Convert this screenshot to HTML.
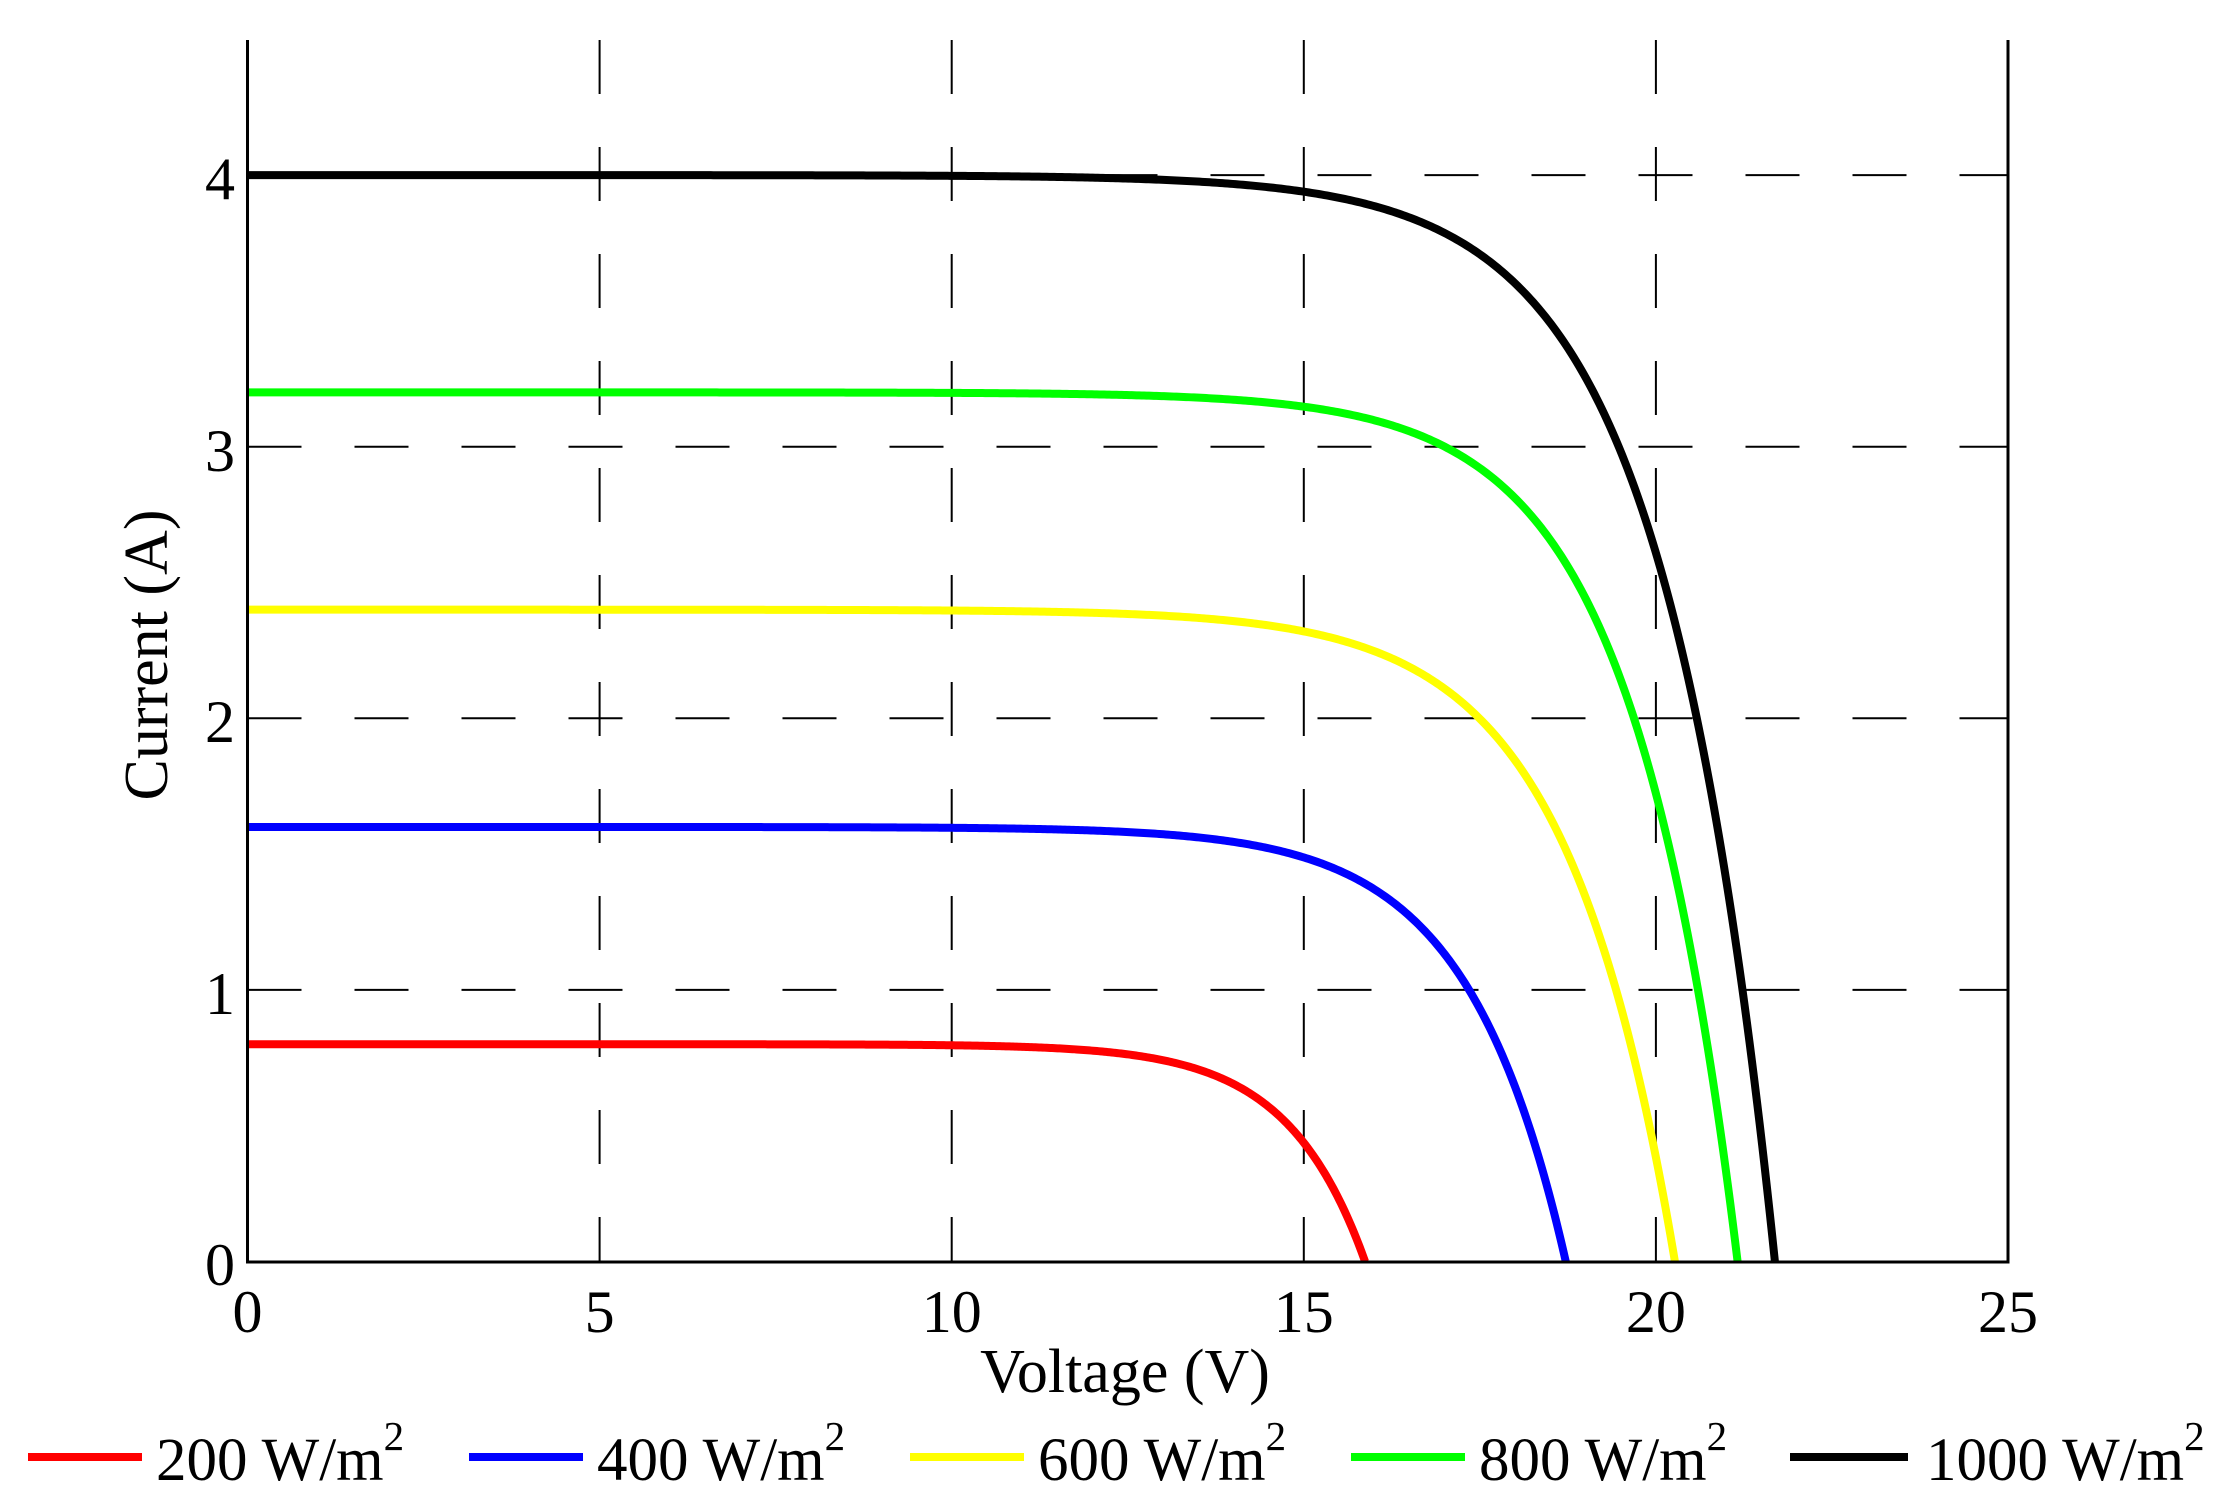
<!DOCTYPE html>
<html><head><meta charset="utf-8"><style>
html,body{margin:0;padding:0;background:#fff;}
svg{display:block;}
text{font-family:"Liberation Serif",serif;fill:#000;}
</style></head><body>
<svg id="s" width="2230" height="1508" viewBox="0 0 2230 1508" xmlns="http://www.w3.org/2000/svg">
<rect width="2230" height="1508" fill="#fff"/>
<g id="grid" stroke="#000" stroke-width="2" stroke-dasharray="54 53" fill="none"></g>
<g id="curves" fill="none" stroke-width="8" stroke-linejoin="round"></g>
<path d="M247.5,40 V1262 H2008 V40" fill="none" stroke="#000" stroke-width="3"/>
<g font-size="60" text-anchor="end">
<text x="235" y="1285">0</text>
<text x="235" y="1014">1</text>
<text x="235" y="742">2</text>
<text x="235" y="471">3</text>
<text x="235" y="199">4</text>
</g>
<g font-size="60" text-anchor="middle">
<text x="247.5" y="1332">0</text>
<text x="599.6" y="1332">5</text>
<text x="951.7" y="1332">10</text>
<text x="1303.8" y="1332">15</text>
<text x="1655.9" y="1332">20</text>
<text x="2008" y="1332">25</text>
</g>
<text x="1125" y="1392" font-size="62" text-anchor="middle">Voltage (V)</text>
<text transform="translate(167,655) rotate(-90)" font-size="62" text-anchor="middle">Current (A)</text>
<g stroke-width="8">
<line x1="28" y1="1457" x2="142" y2="1457" stroke="#ff0000"/>
<line x1="469" y1="1457" x2="583" y2="1457" stroke="#0000ff"/>
<line x1="910" y1="1457" x2="1024" y2="1457" stroke="#ffff00"/>
<line x1="1351" y1="1457" x2="1465" y2="1457" stroke="#00ff00"/>
<line x1="1790" y1="1457" x2="1908" y2="1457" stroke="#000"/>
</g>
<g font-size="61">
<text x="156" y="1480">200 W/m<tspan font-size="41" dy="-30">2</tspan></text>
<text x="597" y="1480">400 W/m<tspan font-size="41" dy="-30">2</tspan></text>
<text x="1038" y="1480">600 W/m<tspan font-size="41" dy="-30">2</tspan></text>
<text x="1479" y="1480">800 W/m<tspan font-size="41" dy="-30">2</tspan></text>
<text x="1926" y="1480">1000 W/m<tspan font-size="41" dy="-30">2</tspan></text>
</g>
</svg>
<script>
(function(){
var ns="http://www.w3.org/2000/svg";
function X(v){return 247.5+v*70.42;}
function Y(i){return 1261.5-i*271.6;}
var g=document.getElementById("grid");
for(var k=1;k<5;k++){var l=document.createElementNS(ns,"line");l.setAttribute("x1",X(k*5));l.setAttribute("x2",X(k*5));l.setAttribute("y1",40);l.setAttribute("y2",1261);g.appendChild(l);}
for(var k=1;k<=4;k++){var l=document.createElementNS(ns,"line");l.setAttribute("x1",247.5);l.setAttribute("x2",2008);l.setAttribute("y1",Y(k));l.setAttribute("y2",Y(k));g.appendChild(l);}
var c=document.getElementById("curves");
var data=[[0.8,15.87,1.1,"#ff0000"],[1.6,18.72,1.4,"#0000ff"],[2.4,20.27,1.55,"#ffff00"],[3.2,21.16,1.5,"#00ff00"],[4.0,21.69,1.6,"#000000"]];
data.forEach(function(d){
var isc=d[0],voc=d[1],a=d[2],s="";
var e0=Math.exp(-voc/a);
for(var n=0;n<=600;n++){var v=voc*n/600;var i=isc*(1-(Math.exp((v-voc)/a)-e0)/(1-e0));
s+=(n?"L":"M")+X(v).toFixed(2)+","+Y(i).toFixed(2);}
var p=document.createElementNS(ns,"path");p.setAttribute("d",s);p.setAttribute("stroke",d[3]);c.appendChild(p);
});
})();
</script>
</body></html>
